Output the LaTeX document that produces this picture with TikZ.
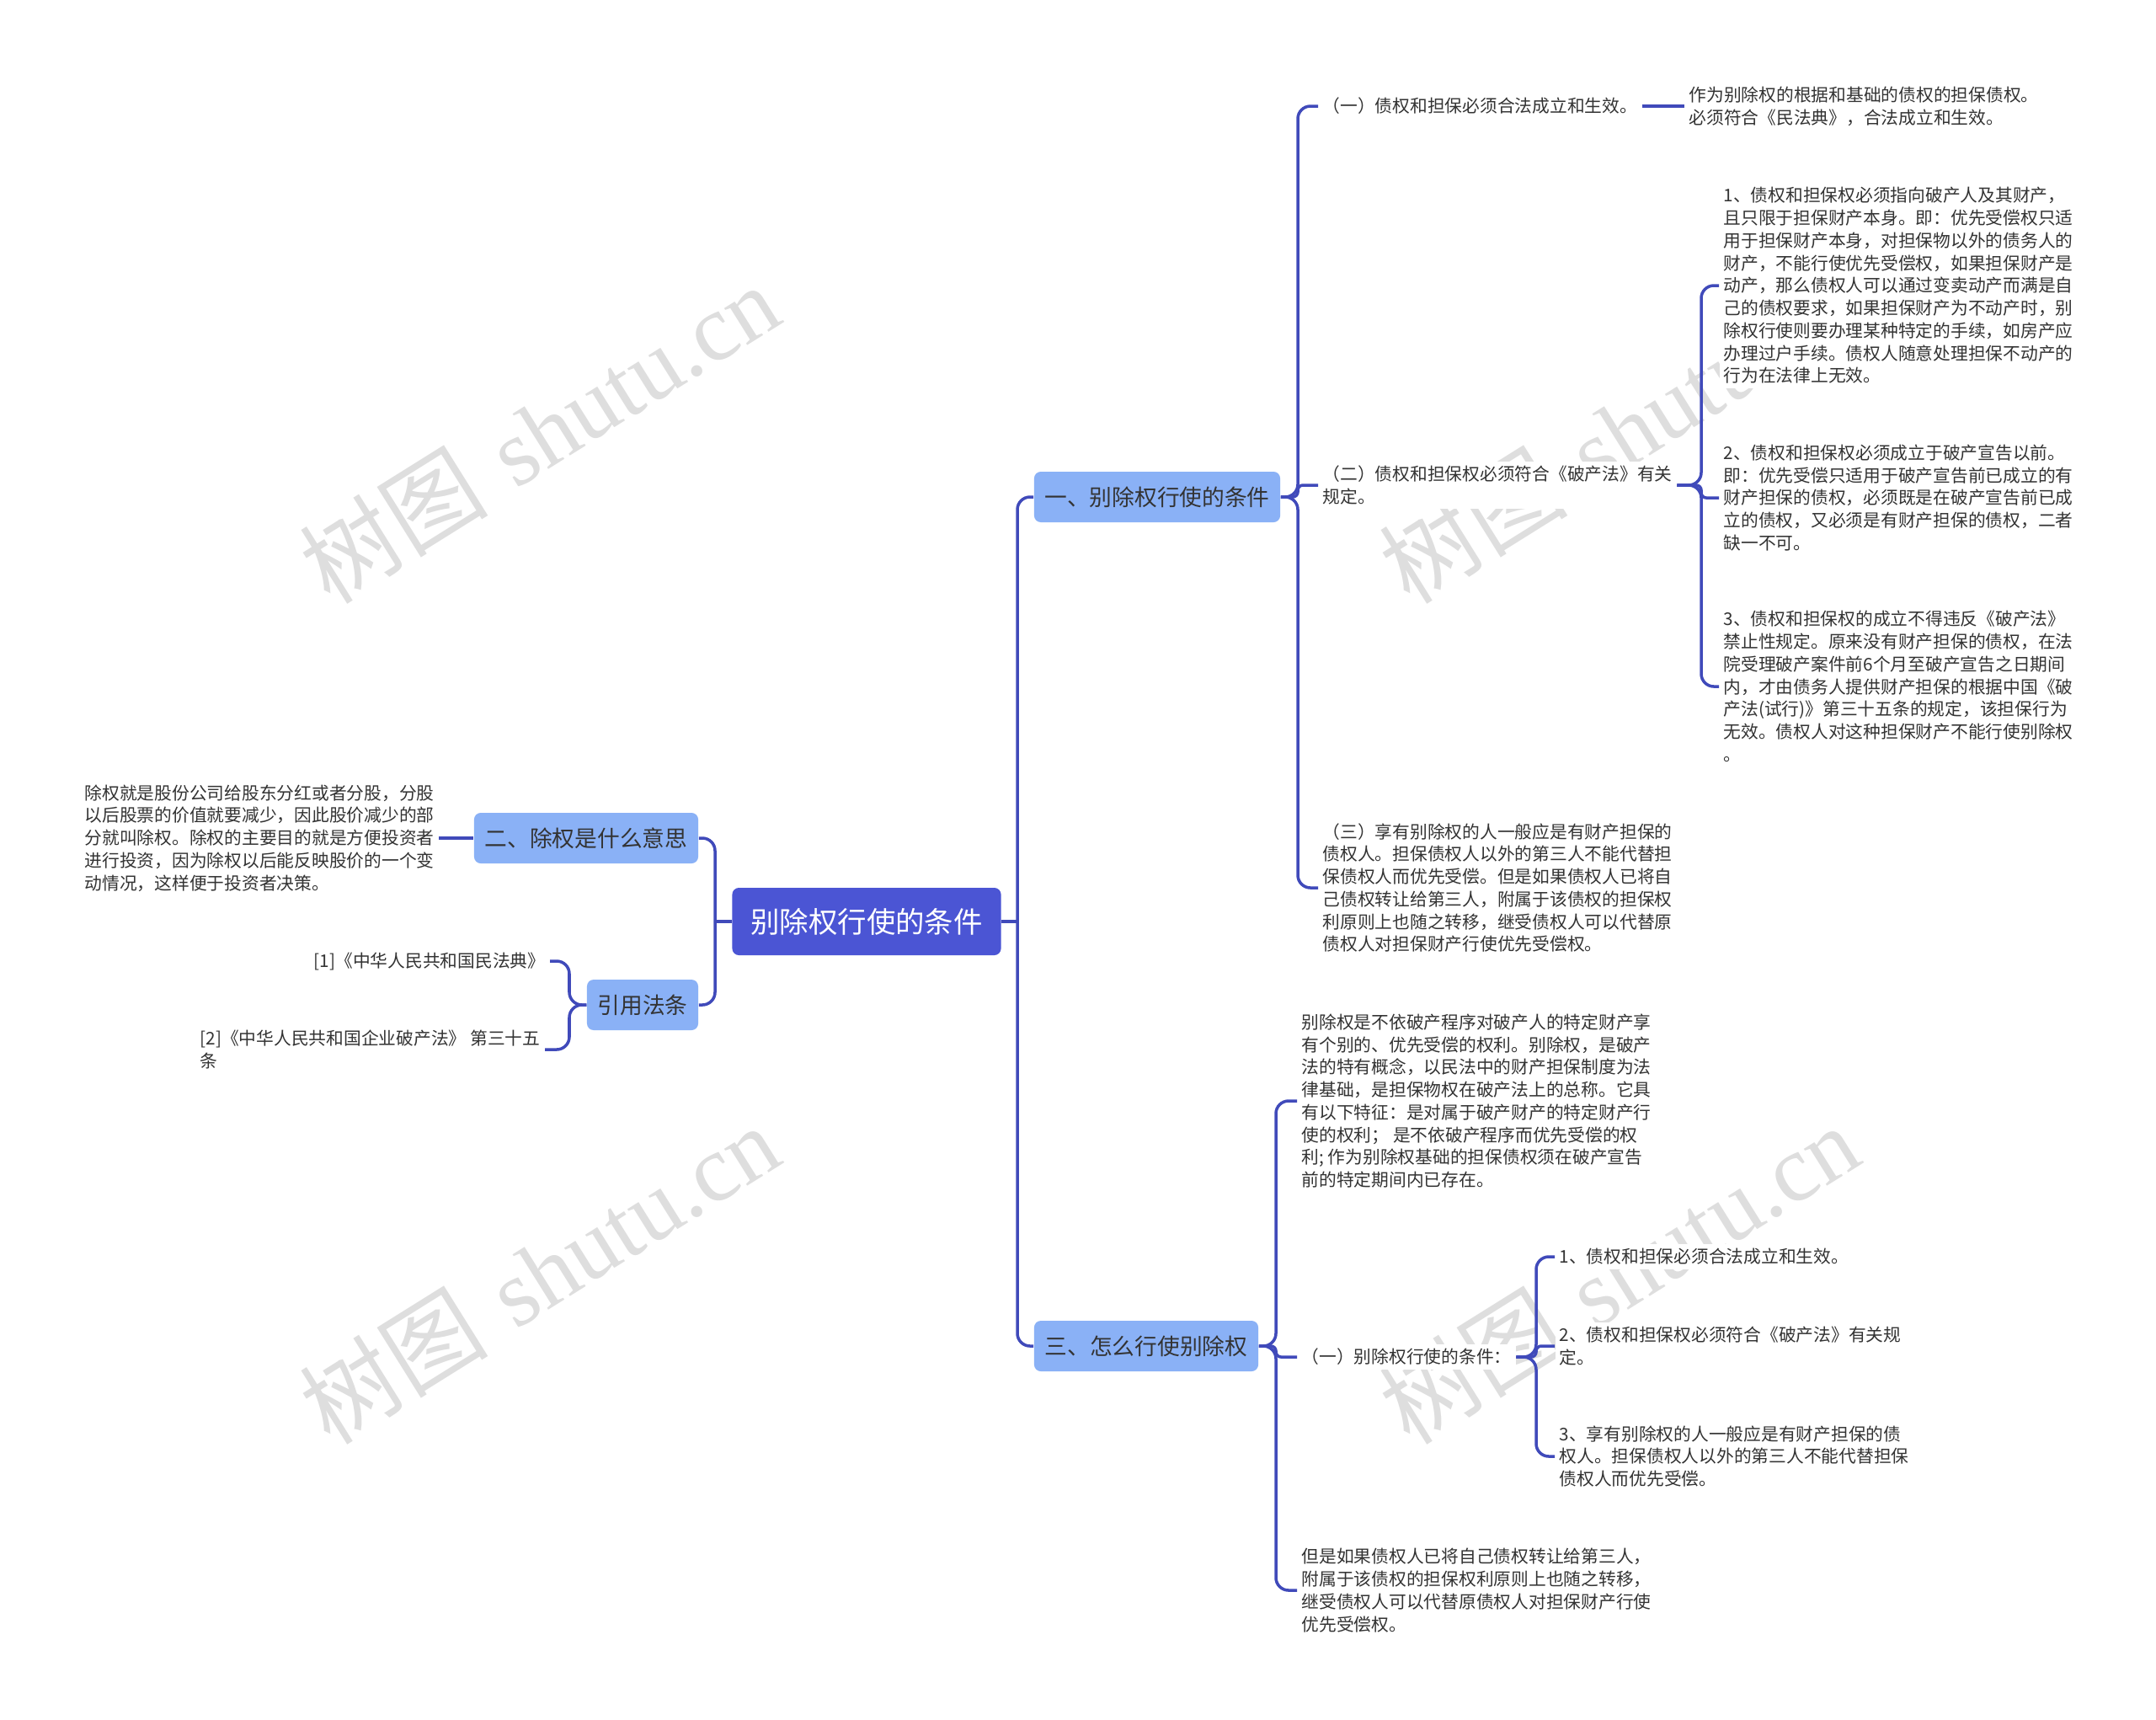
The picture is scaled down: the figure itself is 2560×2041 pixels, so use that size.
\documentclass[tikz,border=0pt]{standalone}
\usepackage{fontspec}
\newfontfamily\cjk{Noto Sans CJK SC}
\newfontfamily\wmfont{Liberation Serif}
\usetikzlibrary{calc}

\definecolor{linkc}{RGB}{64,74,186}
\definecolor{rootc}{RGB}{75,85,212}
\definecolor{subc}{RGB}{138,177,246}
\definecolor{txtc}{RGB}{51,51,51}
\definecolor{wmc}{RGB}{222,222,222}

\begin{document}
\begin{tikzpicture}[x=0.01cm,y=-0.01cm,
  link/.style={draw=linkc,line width=1pt,rounded corners=0.15cm},
  rootbox/.style={fill=rootc,text=white,rounded corners=0.08cm,font=\cjk\fontsize{9.8}{11}\selectfont,minimum width=3.19cm,minimum height=0.8cm},
  subbox/.style={fill=subc,text=txtc,rounded corners=0.08cm,font=\cjk\fontsize{7.6}{9}\selectfont,minimum height=0.6cm},
  leaf/.style={fill=white,text=txtc,align=left,inner sep=0.05cm,font=\cjk\fontsize{5.9}{7.6}\selectfont},
  wmark/.style={text=wmc,rotate=32,font=\fontsize{32}{32}\selectfont}]

% page
\fill[white] (0,0) rectangle (2560,2041);
\useasboundingbox (0,0) rectangle (2560,2041);

% watermarks
\node[wmark] (wm1) at (640,514) {{\cjk 树图} {\wmfont shutu.cn}};
\node[wmark] (wm2) at (640,1512) {{\cjk 树图} {\wmfont shutu.cn}};
\node[wmark] (wm3) at (1922,514) {{\cjk 树图} {\wmfont shutu.cn}};
\node[wmark] (wm4) at (1922,1512) {{\cjk 树图} {\wmfont shutu.cn}};

% root and main branches
\node[rootbox] (root) at (1029,1094) {别除权行使的条件};
\node[subbox,minimum width=2.92cm] (s1) at (1374,590) {一、别除权行使的条件};
\node[subbox,minimum width=2.66cm] (s2) at (696,995) {二、除权是什么意思};
\node[subbox,minimum width=1.32cm] (s4) at (763,1193) {引用法条};
\node[subbox,minimum width=2.66cm] (s3) at (1361,1598) {三、怎么行使别除权};

% bracket lines
\coordinate (bR) at (1208,0);
\coordinate (bL) at (849,0);
\coordinate (b1) at (1541,0);
\coordinate (b12) at (2020,0);
\coordinate (b3) at (1515,0);
\coordinate (b32) at (1824,0);
\coordinate (b4) at (676,0);

% branch one
\node[leaf,anchor=west] (c11) at (1565,126) {（一）债权和担保必须合法成立和生效。};
\node[leaf,anchor=west] (c111) at (2000,126) {作为别除权的根据和基础的债权的担保债权。\\必须符合《民法典》，合法成立和生效。};
\node[leaf,anchor=west] (c12) at (1565,576) {（二）债权和担保权必须符合《破产法》有关\\规定。};
\node[leaf,anchor=west] (c121) at (2041,339) {1、债权和担保权必须指向破产人及其财产，\\且只限于担保财产本身。即：优先受偿权只适\\用于担保财产本身，对担保物以外的债务人的\\财产，不能行使优先受偿权，如果担保财产是\\动产，那么债权人可以通过变卖动产而满是自\\己的债权要求，如果担保财产为不动产时，别\\除权行使则要办理某种特定的手续，如房产应\\办理过户手续。债权人随意处理担保不动产的\\行为在法律上无效。};
\node[leaf,anchor=west] (c122) at (2041,591) {2、债权和担保权必须成立于破产宣告以前。\\即：优先受偿只适用于破产宣告前已成立的有\\财产担保的债权，必须既是在破产宣告前已成\\立的债权，又必须是有财产担保的债权，二者\\缺一不可。};
\node[leaf,anchor=west] (c123) at (2041,815) {3、债权和担保权的成立不得违反《破产法》\\禁止性规定。原来没有财产担保的债权，在法\\院受理破产案件前6个月至破产宣告之日期间\\内，才由债务人提供财产担保的根据中国《破\\产法(试行)》第三十五条的规定，该担保行为\\无效。债权人对这种担保财产不能行使别除权\\。};
\node[leaf,anchor=west] (c13) at (1565,1054) {（三）享有别除权的人一般应是有财产担保的\\债权人。担保债权人以外的第三人不能代替担\\保债权人而优先受偿。但是如果债权人已将自\\己债权转让给第三人，附属于该债权的担保权\\利原则上也随之转移，继受债权人可以代替原\\债权人对担保财产行使优先受偿权。};

% branch two
\node[leaf,anchor=west] (c21) at (95,995) {除权就是股份公司给股东分红或者分股，分股\\以后股票的价值就要减少，因此股价减少的部\\分就叫除权。除权的主要目的就是方便投资者\\进行投资，因为除权以后能反映股价的一个变\\动情况，这样便于投资者决策。};
\node[leaf,anchor=east] (c41) at (653,1141) {[1]《中华人民共和国民法典》};
\node[leaf,anchor=east] (c42) at (647,1246) {[2]《中华人民共和国企业破产法》 第三十五\\条};

% branch three
\node[leaf,anchor=west] (c31) at (1540,1307) {别除权是不依破产程序对破产人的特定财产享\\有个别的、优先受偿的权利。别除权，是破产\\法的特有概念，以民法中的财产担保制度为法\\律基础，是担保物权在破产法上的总称。它具\\有以下特征：是对属于破产财产的特定财产行\\使的权利； 是不依破产程序而优先受偿的权\\利; 作为别除权基础的担保债权须在破产宣告\\前的特定期间内已存在。};
\node[leaf,anchor=west] (c32) at (1540,1611) {（一）别除权行使的条件：};
\node[leaf,anchor=west] (c321) at (1846,1492) {1、债权和担保必须合法成立和生效。};
\node[leaf,anchor=west] (c322) at (1846,1598) {2、债权和担保权必须符合《破产法》有关规\\定。};
\node[leaf,anchor=west] (c323) at (1846,1729) {3、享有别除权的人一般应是有财产担保的债\\权人。担保债权人以外的第三人不能代替担保\\债权人而优先受偿。};
\node[leaf,anchor=west] (c33) at (1540,1888) {但是如果债权人已将自己债权转让给第三人，\\附属于该债权的担保权利原则上也随之转移，\\继受债权人可以代替原债权人对担保财产行使\\优先受偿权。};

% connectors from root
\draw[link] (root.east) -- (root.east -| bR);
\draw[link] (root.east -| bR) |- (s1.west);
\draw[link] (root.east -| bR) |- (s3.west);
\draw[link] (root.west) -- (root.west -| bL);
\draw[link] (root.west -| bL) |- (s2.east);
\draw[link] (root.west -| bL) |- (s4.east);

% connectors of branch one
\draw[link] (s1.east) -- (s1.east -| b1) |- (c11.west);
\draw[link,rounded corners=0.06cm] (s1.east) -- (s1.east -| b1) |- (c12.west);
\draw[link] (s1.east) -- (s1.east -| b1) |- (c13.west);
\draw[link] (c11.east) -- (c111.west);
\draw[link] (c12.east) -- (c12.east -| b12) |- (c121.west);
\draw[link,rounded corners=0.06cm] (c12.east) -- (c12.east -| b12) |- (c122.west);
\draw[link] (c12.east) -- (c12.east -| b12) |- (c123.west);

% connectors of branch two
\draw[link] (c21.east) -- (s2.west);
\draw[link] (s4.west) -- (s4.west -| b4) |- (c41.east);
\draw[link] (s4.west) -- (s4.west -| b4) |- (c42.east);

% connectors of branch three
\draw[link] (s3.east) -- (s3.east -| b3) |- (c31.west);
\draw[link,rounded corners=0.06cm] (s3.east) -- (s3.east -| b3) |- (c32.west);
\draw[link] (s3.east) -- (s3.east -| b3) |- (c33.west);
\draw[link] (c32.east) -- (c32.east -| b32) |- (c321.west);
\draw[link,rounded corners=0.06cm] (c32.east) -- (c32.east -| b32) |- (c322.west);
\draw[link] (c32.east) -- (c32.east -| b32) |- (c323.west);
\end{tikzpicture}
\end{document}
